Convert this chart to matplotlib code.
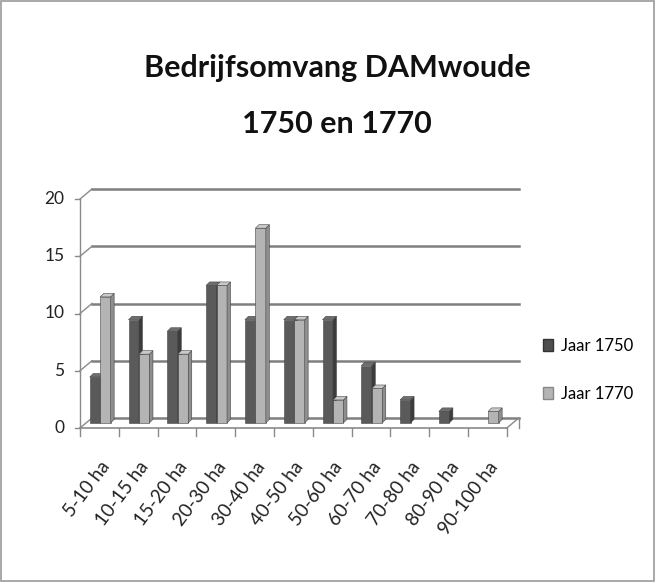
import matplotlib
matplotlib.use("Agg")
import matplotlib.pyplot as plt
from matplotlib.patches import Polygon, Rectangle, Patch

categories = ["5-10 ha", "10-15 ha", "15-20 ha", "20-30 ha", "30-40 ha", "40-50 ha",
              "50-60 ha", "60-70 ha", "70-80 ha", "80-90 ha", "90-100 ha"]
jaar_1750 = [4, 9, 8, 12, 9, 9, 9, 5, 2, 1, 0]
jaar_1770 = [11, 6, 6, 12, 17, 9, 2, 3, 0, 0, 1]
series_names = ["Jaar 1750", "Jaar 1770"]
y_ticks = [0, 5, 10, 15, 20]

plt.rcParams['font.family'] = ['Lato', 'DejaVu Sans']

fig = plt.figure(figsize=(6.55, 5.82), dpi=100)
W, H = 655, 582
px_cat = 38.8
px_val = 11.45
left_px, right_px, zero_px, top_px = 80, 520, 428, 186
ax = fig.add_axes([left_px / W, 1 - zero_px / H, (right_px - left_px) / W, (zero_px - top_px) / H])
ax.set_xlim(-0.5, -0.5 + (right_px - left_px) / px_cat)
ax.set_ylim(0, (zero_px - top_px) / px_val)
ax.axis("off")

# depth of the back wall
dx, dy = 12 / px_cat, 10 / px_val
n = len(categories)
gc = "#8a8a8a"

# back wall gridlines and connectors
for v in y_ticks:
    ax.plot([-0.5 + dx, n - 0.5 + dx], [v + dy, v + dy], color="#7f7f7f", lw=1.8, clip_on=False, zorder=1)
    ax.plot([-0.5, -0.5 + dx], [v, v + dy], color=gc, lw=1, clip_on=False, zorder=1)
    ax.plot([-0.5 - 0.12, -0.5], [v, v], color=gc, lw=1, clip_on=False)
    ax.text(-0.5 - 0.4, v, str(v), ha="right", va="center", fontsize=12.5, color="#222222")
ax.plot([-0.5, -0.5], [0, 20], color=gc, lw=1, clip_on=False)
ax.plot([-0.5, n - 0.5], [0, 0], color=gc, lw=1.2, clip_on=False, zorder=5)
ax.plot([n - 0.5, n - 0.5 + dx], [0, dy], color=gc, lw=1, clip_on=False)
ax.plot([n - 0.5 + dx, n - 0.5 + dx], [dy, 0.0], color=gc, lw=1, clip_on=False)
for i in range(n + 1):
    ax.plot([i - 0.5, i - 0.5], [0, -0.7], color=gc, lw=1, clip_on=False)


def bar3d(x0, w, h, base, c_front, c_side, c_top):
    bx, by = 0.02, base
    ddx, ddy = 3.5 / px_cat, 3.5 / px_val
    front = Polygon([[x0 + bx, by], [x0 + bx + w, by], [x0 + bx + w, by + h], [x0 + bx, by + h]],
                    facecolor=c_front, edgecolor="#444444", lw=0.4, zorder=3)
    side = Polygon([[x0 + bx + w, by], [x0 + bx + w + ddx, by + ddy], [x0 + bx + w + ddx, by + h + ddy],
                    [x0 + bx + w, by + h]], facecolor=c_side, edgecolor="#444444", lw=0.4, zorder=3)
    top = Polygon([[x0 + bx, by + h], [x0 + bx + w, by + h], [x0 + bx + w + ddx, by + h + ddy],
                   [x0 + bx + ddx, by + h + ddy]], facecolor=c_top, edgecolor="#444444", lw=0.4, zorder=3)
    for p in (front, side, top):
        ax.add_patch(p)


bw = 0.27
base = 0.45
for i in range(n):
    if jaar_1750[i] > 0:
        bar3d(i - bw, bw, jaar_1750[i], base, "#5a5a5a", "#3c3c3c", "#6e6e6e")
    if jaar_1770[i] > 0:
        bar3d(i, bw, jaar_1770[i], base, "#b4b4b4", "#8e8e8e", "#c9c9c9")

for i, lab in enumerate(categories):
    ax.text(i + 0.18, -3.1, lab, rotation=53, rotation_mode="anchor", ha="right", va="center",
            fontsize=13.5, color="#222222", clip_on=False)

fig.text(337 / W, 1 - 68 / H, "Bedrijfsomvang DAMwoude", ha="center", va="center",
         fontsize=22, fontweight="bold", color="#111111")
fig.text(337 / W, 1 - 124 / H, "1750 en 1770", ha="center", va="center",
         fontsize=22, fontweight="bold", color="#111111")

handles = [Patch(facecolor="#4e4e4e", edgecolor="#333333"), Patch(facecolor="#b4b4b4", edgecolor="#888888")]
fig.legend(handles, series_names, loc="center left", bbox_to_anchor=(528 / W, 1 - 370 / H),
           frameon=False, labelspacing=1.9, handlelength=0.6, handleheight=0.7, handletextpad=0.5,
           fontsize=12)

fig.patches.append(Rectangle((0.002, 0.002), 0.996, 0.996, transform=fig.transFigure, fill=False,
                             edgecolor="#9a9a9a", lw=1.2))

fig.savefig("out.png", dpi=100, facecolor="white")
